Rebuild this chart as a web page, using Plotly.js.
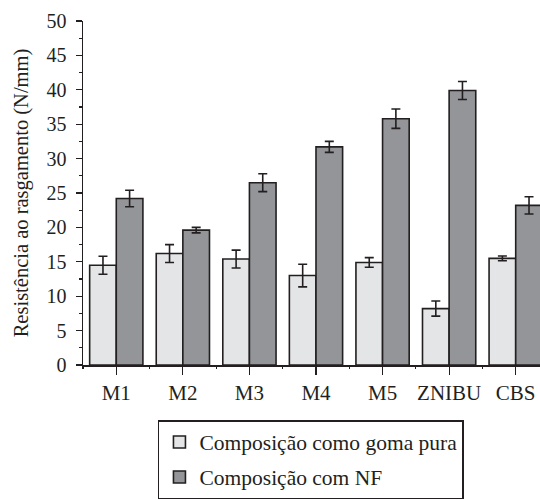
<!DOCTYPE html>
<html>
<head>
<meta charset="utf-8">
<script src="https://cdn.plot.ly/plotly-3.0.1.min.js"></script>
<style>html,body{margin:0;padding:0;background:#fff;}</style>
</head>
<body>
<div id="chart" style="width:540px;height:500px;"></div>
<script>
const categories = ['M1', 'M2', 'M3', 'M4', 'M5', 'ZNIBU', 'CBS'];
const gumValues = [14.5, 16.2, 15.4, 13.0, 14.9, 8.2, 15.5];
const gumErrors = [1.3, 1.3, 1.3, 1.65, 0.7, 1.1, 0.35];
const nfValues = [24.2, 19.6, 26.5, 31.7, 35.8, 39.9, 23.2];
const nfErrors = [1.2, 0.4, 1.3, 0.8, 1.4, 1.3, 1.25];
const seriesNames = ['Composição como goma pura', 'Composição com NF'];
const yTitle = 'Resistência ao rasgamento (N/mm)';

const ink = '#231f20';
const serif = "'Liberation Serif', serif";

const traces = [
  {
    type: 'bar', x: categories, y: gumValues, name: seriesNames[0],
    legendgroup: 'a',
    marker: {color: '#e4e5e7', line: {color: ink, width: 1.6}},
    error_y: {type: 'data', array: gumErrors, visible: true, color: ink, thickness: 1.6, width: 4.5},
    hoverinfo: 'skip'
  },
  {
    type: 'bar', x: categories, y: nfValues, name: seriesNames[1],
    legendgroup: 'b',
    marker: {color: '#939598', line: {color: ink, width: 1.6}},
    error_y: {type: 'data', array: nfErrors, visible: true, color: ink, thickness: 1.6, width: 4.5},
    hoverinfo: 'skip'
  },
  {
    type: 'scatter', mode: 'markers', x: categories, y: categories.map(() => 0),
    xaxis: 'x2', marker: {opacity: 0}, showlegend: false, hoverinfo: 'skip'
  }
];

const xr = [-0.5, 6.365];
const layout = {
  width: 540, height: 500,
  margin: {l: 83, r: 0, t: 21, b: 135},
  paper_bgcolor: '#fff', plot_bgcolor: '#fff',
  font: {family: serif, color: ink, size: 20},
  barmode: 'group', bargap: 0.2, bargroupgap: 0,
  showlegend: true,
  xaxis: {
    type: 'category', range: xr, showline: true, linecolor: ink, linewidth: 1.5,
    ticks: 'outside', ticklen: 8, tickwidth: 1.2, tickcolor: ink,
    showgrid: false, zeroline: false, fixedrange: true,
    tickfont: {family: serif, size: 21, color: ink}
  },
  xaxis2: {
    type: 'category', overlaying: 'x', anchor: 'y', side: 'bottom', range: xr,
    tickson: 'boundaries', ticks: 'outside', ticklen: 3, tickwidth: 1.2, tickcolor: ink,
    showticklabels: false, showgrid: false, zeroline: false, showline: false
  },
  yaxis: {
    range: [0, 50], dtick: 5, tick0: 0, showline: true, linecolor: ink, linewidth: 1.5,
    ticks: 'outside', ticklen: 6, tickwidth: 1.2, tickcolor: ink,
    minor: {dtick: 2.5, tick0: 0, ticks: 'outside', ticklen: 3, tickwidth: 1.2, tickcolor: ink, showgrid: false},
    showgrid: false, zeroline: false, fixedrange: true,
    ticklabelstandoff: 5,
    tickfont: {family: serif, size: 20, color: ink},
    title: {text: yTitle, font: {family: serif, size: 20.5, color: ink}, standoff: 12}
  },
  legend: {
    x: 0.164, xanchor: 'left', y: -0.16, yanchor: 'top',
    bgcolor: '#fff', bordercolor: ink, borderwidth: 1.5,
    font: {family: serif, size: 21.5, color: ink},
    traceorder: 'grouped', tracegroupgap: 4,
    entrywidth: 306
  }
};

Plotly.newPlot('chart', traces, layout, {displayModeBar: false, staticPlot: true});
</script>
</body>
</html>
